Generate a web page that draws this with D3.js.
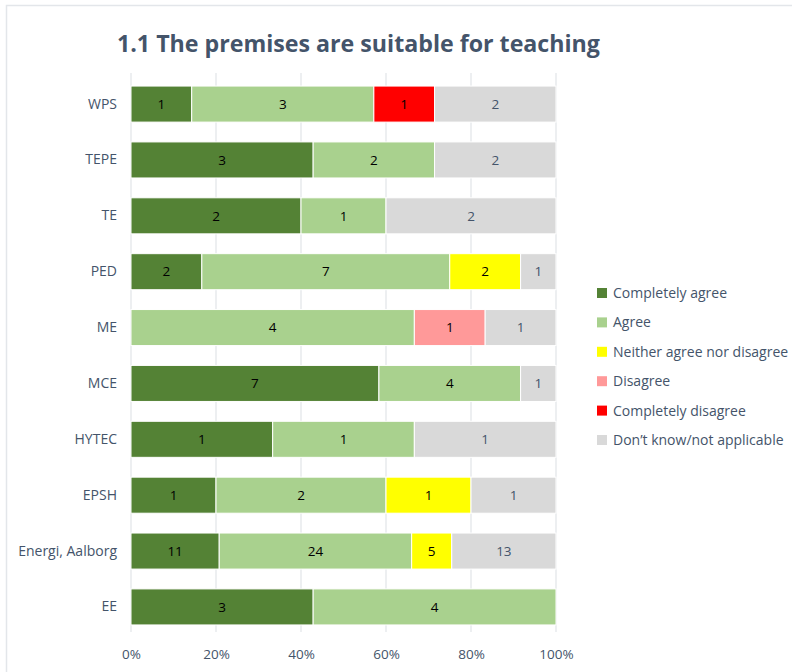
<!DOCTYPE html>
<html>
<head>
<meta charset="utf-8">
<script src="https://cdn.jsdelivr.net/npm/d3@7"></script>
<style>
  body { margin: 0; background: #fff; }
  svg text { font-family: "Open Sans", "Noto Sans", sans-serif; }
</style>
</head>
<body>
<div id="chart"></div>
<script>
// categories, top to bottom
const categories = ["WPS", "TEPE", "TE", "PED", "ME", "MCE", "HYTEC", "EPSH", "Energi, Aalborg", "EE"];
const seriesNames = ["Completely agree", "Agree", "Neither agree nor disagree", "Disagree", "Completely disagree", "Don\u2019t know/not applicable"];
const seriesColors = ["#548235", "#a9d18e", "#ffff00", "#ff9999", "#ff0000", "#d9d9d9"];

// response counts per category, same order as categories
const completelyAgree    = [1, 3, 2, 2, 0, 7, 1, 1, 11, 3];
const agree              = [3, 2, 1, 7, 4, 4, 1, 2, 24, 4];
const neither            = [0, 0, 0, 2, 0, 0, 0, 1, 5, 0];
const disagree           = [0, 0, 0, 0, 1, 0, 0, 0, 0, 0];
const completelyDisagree = [1, 0, 0, 0, 0, 0, 0, 0, 0, 0];
const dontKnow           = [2, 2, 2, 1, 1, 1, 1, 1, 13, 0];

const xTicks = [0, 0.2, 0.4, 0.6, 0.8, 1];

const width = 792, height = 672;
const margin = {top: 76, left: 131, right: 236, bottom: 37};

const svg = d3.select("#chart").append("svg")
    .attr("width", width)
    .attr("height", height);

// faint frame
svg.append("path")
    .attr("d", `M6.5,${height} V5.5 H${width}`)
    .attr("fill", "none")
    .attr("stroke", "#e3e6ea")
    .attr("stroke-width", 1.5);

svg.append("text")
    .attr("x", 117)
    .attr("y", 52)
    .attr("fill", "#44546a")
    .attr("font-size", 23.2)
    .attr("font-weight", "bold")
    .text("1.1 The premises are suitable for teaching");

const rows = categories.map((c, i) => ({
    category: c,
    [seriesNames[0]]: completelyAgree[i],
    [seriesNames[1]]: agree[i],
    [seriesNames[2]]: neither[i],
    [seriesNames[3]]: disagree[i],
    [seriesNames[4]]: completelyDisagree[i],
    [seriesNames[5]]: dontKnow[i]
}));

const stacked = d3.stack()
    .keys(seriesNames)
    .offset(d3.stackOffsetExpand)(rows);

const x = d3.scaleLinear()
    .domain([0, 1])
    .range([margin.left, width - margin.right]);

const y = d3.scaleBand()
    .domain(categories)
    .range([margin.top, height - margin.bottom])
    .paddingInner(0.355)
    .paddingOuter(0.18);

const color = d3.scaleOrdinal().domain(seriesNames).range(seriesColors);

// gridlines
svg.append("g")
    .selectAll("line")
    .data(xTicks)
    .join("line")
    .attr("x1", d => x(d)).attr("x2", d => x(d))
    .attr("y1", margin.top - 3).attr("y2", height - margin.bottom - 3)
    .attr("stroke", "#e3e6ea")
    .attr("stroke-width", 1.3);

const xAxis = d3.axisBottom(x)
    .tickValues(xTicks)
    .tickFormat(d3.format(".0%"))
    .tickSize(0)
    .tickPadding(0);

const xAxisG = svg.append("g")
    .attr("transform", `translate(0,${height - margin.bottom + 13})`)
    .call(xAxis);
xAxisG.select(".domain").remove();
xAxisG.selectAll("text")
    .attr("fill", "#44546a")
    .attr("font-size", 13.5)
    .attr("dy", "0.8em");

const yAxis = d3.axisLeft(y).tickSize(0).tickPadding(14);
const yAxisG = svg.append("g")
    .attr("transform", `translate(${margin.left},0)`)
    .call(yAxis);
yAxisG.select(".domain").remove();
yAxisG.selectAll("text")
    .attr("fill", "#44546a")
    .attr("font-size", 14);

// bars
const layer = svg.append("g")
    .selectAll("g")
    .data(stacked)
    .join("g")
    .attr("fill", d => color(d.key));

layer.selectAll("rect")
    .data(d => d.map(p => ({p, key: d.key})))
    .join("rect")
    .attr("x", d => x(d.p[0]))
    .attr("y", d => y(d.p.data.category))
    .attr("width", d => x(d.p[1]) - x(d.p[0]))
    .attr("height", y.bandwidth())
    .attr("stroke", "#fff")
    .attr("stroke-width", 1);

// value labels
layer.selectAll("text")
    .data(d => d.map(p => ({p, key: d.key})).filter(d => d.p.data[d.key] > 0))
    .join("text")
    .attr("x", d => (x(d.p[0]) + x(d.p[1])) / 2)
    .attr("y", d => y(d.p.data.category) + y.bandwidth() / 2)
    .attr("dy", "0.35em")
    .attr("text-anchor", "middle")
    .attr("font-size", 13.5)
    .attr("fill", d => d.key === seriesNames[5] ? "#44546a" : "#000")
    .text(d => d.p.data[d.key]);

// legend
const legend = svg.append("g")
    .attr("transform", "translate(597,293)");

const item = legend.selectAll("g")
    .data(seriesNames)
    .join("g")
    .attr("transform", (d, i) => `translate(0,${i * 29.4})`);

item.append("rect")
    .attr("x", 0).attr("y", -5)
    .attr("width", 10).attr("height", 10)
    .attr("fill", d => color(d));

item.append("text")
    .attr("x", 16)
    .attr("dy", "0.35em")
    .attr("fill", "#44546a")
    .attr("font-size", 14)
    .text(d => d);
</script>
</body>
</html>
